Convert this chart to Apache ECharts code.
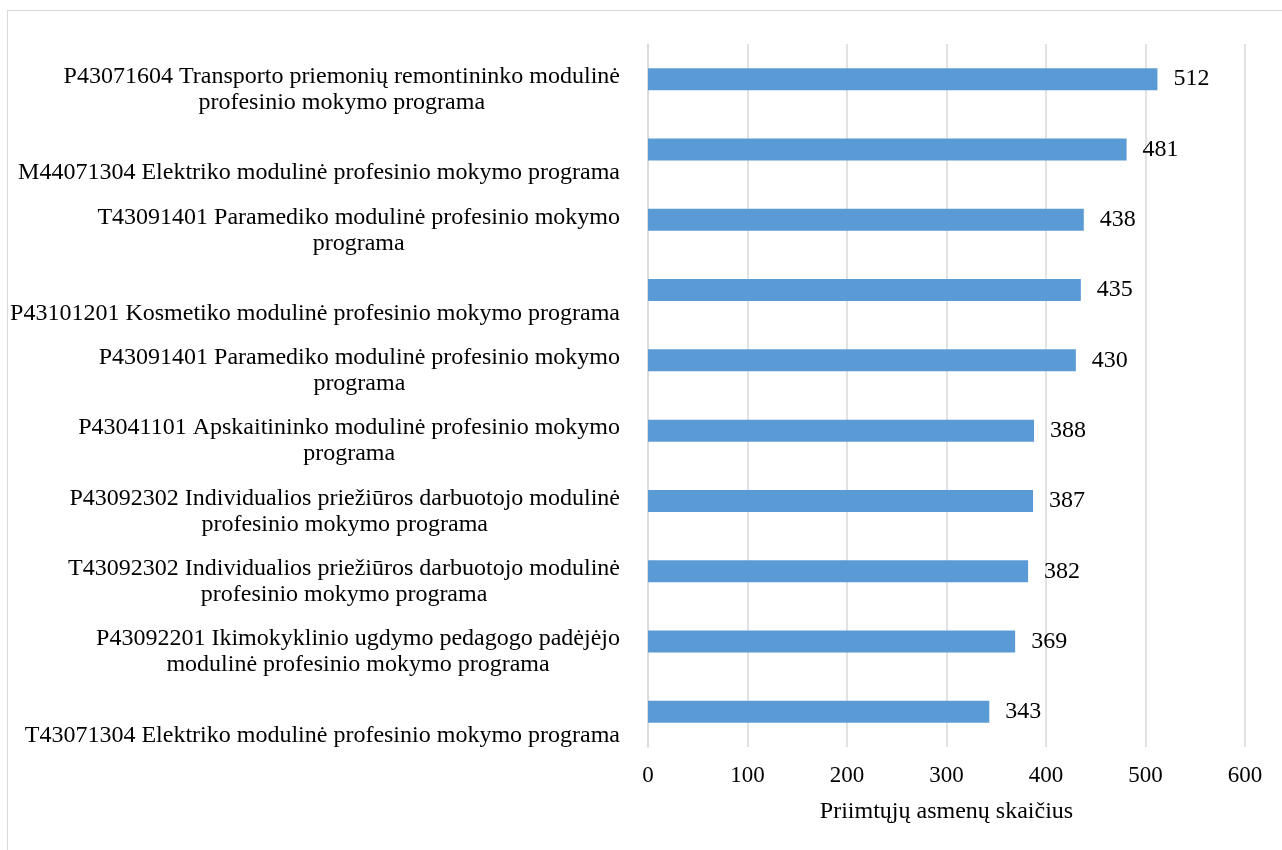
<!DOCTYPE html>
<html><head><meta charset="utf-8">
<script src="https://cdn.jsdelivr.net/npm/echarts@6/dist/echarts.min.js"></script>
<style>
html,body{margin:0;padding:0;background:#fff;}
#frame{position:absolute;left:7px;top:10px;width:1300px;height:900px;border:1.5px solid #d9d9d9;box-sizing:border-box;}
#chart{position:absolute;left:0;top:0;width:1282px;height:850px;}
</style></head>
<body>
<div id="frame"></div>
<div id="chart"></div>
<script>
const categories = [
  "P43071604 Transporto priemonių remontininko modulinė\nprofesinio mokymo programa",
  "M44071304 Elektriko modulinė profesinio mokymo programa",
  "T43091401 Paramediko modulinė profesinio mokymo\nprograma",
  "P43101201 Kosmetiko modulinė profesinio mokymo programa",
  "P43091401 Paramediko modulinė profesinio mokymo\nprograma",
  "P43041101 Apskaitininko modulinė profesinio mokymo\nprograma",
  "P43092302 Individualios priežiūros darbuotojo modulinė\nprofesinio mokymo programa",
  "T43092302 Individualios priežiūros darbuotojo modulinė\nprofesinio mokymo programa",
  "P43092201 Ikimokyklinio ugdymo pedagogo padėjėjo\nmodulinė profesinio mokymo programa",
  "T43071304 Elektriko modulinė profesinio mokymo programa"
];
const values = [512, 481, 438, 435, 430, 388, 387, 382, 369, 343];
const axisName = "Priimtųjų asmenų skaičius";

const FONT = "'Liberation Serif','Times New Roman',serif";
const chart = echarts.init(document.getElementById('chart'), null, {renderer:'canvas'});
chart.setOption({
  animation: false,
  grid: {left: 648, right: 37, top: 44, bottom: 103, containLabel: false},
  xAxis: {
    type: 'value', min: 0, max: 600, interval: 100,
    axisLine: {show: false}, axisTick: {show: false},
    splitLine: {show: true, lineStyle: {color: '#d9d9d9', width: 1.5}},
    axisLabel: {color: '#000', fontFamily: FONT, fontSize: 23, margin: 17},
    name: axisName, nameLocation: 'middle', nameGap: 53,
    nameTextStyle: {color: '#000', fontFamily: FONT, fontSize: 24}
  },
  yAxis: {
    type: 'category', data: categories, inverse: true,
    axisLine: {show: true, lineStyle: {color: '#d9d9d9', width: 1.5}},
    axisTick: {show: false},
    splitLine: {show: false},
    axisLabel: {
      margin: 28, align: 'right', verticalAlign: 'middle', padding: [21,0,0,0],
      formatter: function (v) {
        let lines = v.split('\n');
        if (lines.length === 1) lines = [' ', lines[0]];
        return lines.map(l => '{c|' + l + '}').join('\n');
      },
      rich: {c: {align: 'center', fontFamily: FONT, fontSize: 24, lineHeight: 26, color: '#000'}}
    }
  },
  series: [{
    type: 'bar', data: values, barWidth: 22,
    itemStyle: {color: '#5b9bd5'},
    label: {show: true, position: 'right', distance: 16, color: '#000', fontFamily: FONT, fontSize: 24}
  }]
});
</script>
</body></html>
